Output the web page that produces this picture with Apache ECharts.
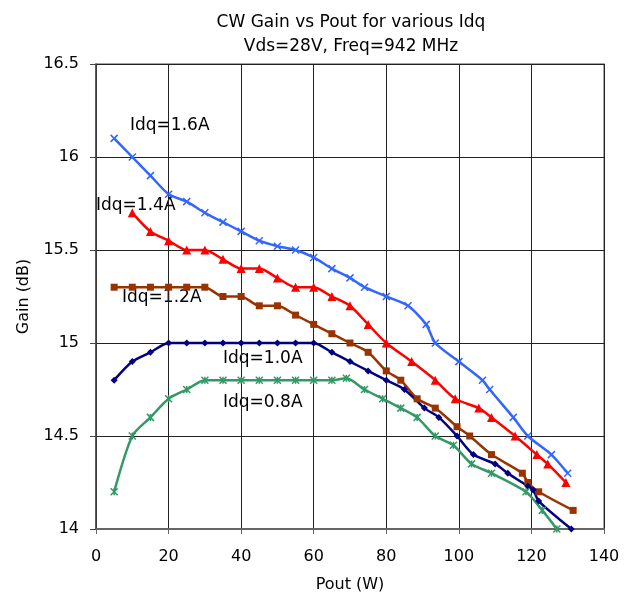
<!DOCTYPE html>
<html>
<head>
<meta charset="utf-8">
<script src="https://cdn.jsdelivr.net/npm/echarts@6/dist/echarts.min.js"></script>
<style>
  html, body { margin: 0; padding: 0; background: #fff; }
  #main { width: 624px; height: 604px; }
</style>
</head>
<body>
<div id="main"></div>
<script>
// Idq = 1.6 A
const pout16 = [5, 10, 15, 20, 25, 30, 35, 40, 45, 50, 55, 60, 65, 70, 74, 80, 86, 91, 93.5, 100, 106.5, 108.5, 115, 119, 125.5, 130];
const gain16 = [16.1, 16.0, 15.9, 15.8, 15.76, 15.7, 15.65, 15.6, 15.55, 15.52, 15.5, 15.46, 15.4, 15.35, 15.3, 15.25, 15.2, 15.1, 15.0, 14.9, 14.8, 14.75, 14.6, 14.5, 14.4, 14.3];
// Idq = 1.4 A
const pout14 = [10, 15, 20, 25, 30, 35, 40, 45, 50, 55, 60, 65, 70, 75, 80, 87, 93.5, 99, 105.5, 109, 115.5, 121.5, 124.5, 129.5];
const gain14 = [15.7, 15.6, 15.55, 15.5, 15.5, 15.45, 15.4, 15.4, 15.35, 15.3, 15.3, 15.25, 15.2, 15.1, 15.0, 14.9, 14.8, 14.7, 14.65, 14.6, 14.5, 14.4, 14.35, 14.25];
// Idq = 1.2 A
const pout12 = [5, 10, 15, 20, 25, 30, 35, 40, 45, 50, 55, 60, 65, 70, 75, 80, 84, 88.5, 93.5, 99.5, 103, 109, 117.5, 119, 122, 131.5];
const gain12 = [15.3, 15.3, 15.3, 15.3, 15.3, 15.3, 15.25, 15.25, 15.2, 15.2, 15.15, 15.1, 15.05, 15.0, 14.95, 14.85, 14.8, 14.7, 14.65, 14.55, 14.5, 14.4, 14.3, 14.25, 14.2, 14.1];
// Idq = 1.0 A
const pout10 = [5, 10, 15, 20, 25, 30, 35, 40, 45, 50, 55, 60, 65, 70, 75, 80, 85, 90.5, 94.5, 99.5, 104, 110, 113.5, 119, 120.5, 122, 131];
const gain10 = [14.8, 14.9, 14.95, 15.0, 15.0, 15.0, 15.0, 15.0, 15.0, 15.0, 15.0, 15.0, 14.95, 14.9, 14.85, 14.8, 14.75, 14.65, 14.6, 14.5, 14.4, 14.35, 14.3, 14.23, 14.21, 14.15, 14.0];
// Idq = 0.8 A
const pout08 = [5, 10, 15, 20, 25, 30, 35, 40, 45, 50, 55, 60, 65, 69, 74, 79, 84, 88.5, 93.5, 98.5, 103.5, 109, 118.5, 123, 127];
const gain08 = [14.2, 14.5, 14.6, 14.7, 14.75, 14.8, 14.8, 14.8, 14.8, 14.8, 14.8, 14.8, 14.8, 14.81, 14.75, 14.7, 14.65, 14.6, 14.5, 14.45, 14.35, 14.3, 14.2, 14.1, 14.0];

const seriesNames = ['Idq=1.6A', 'Idq=1.4A', 'Idq=1.2A', 'Idq=1.0A', 'Idq=0.8A'];
const seriesColors = ['#3366FF', '#FF0000', '#993300', '#000080', '#339966'];

const zip = (xs, ys) => xs.map((x, i) => [x, ys[i]]);

const crossPath = 'path://M0,0L10,10M10,0L0,10';
const starPath = 'path://M0,0L10,10M10,0L0,10M5,0L5,10';

const font = 'DejaVu Sans, Liberation Sans, sans-serif';

function lineSeries(name, data, color, symbol, size, stroke) {
  return {
    name: name,
    type: 'line',
    data: data,
    smooth: 0.25,
    symbol: symbol,
    symbolSize: size,
    lineStyle: { color: color, width: 2.5 },
    itemStyle: stroke
      ? { color: 'rgba(0,0,0,0)', borderColor: color, borderWidth: 1.5 }
      : { color: color, borderWidth: 0 },
    emphasis: { disabled: true },
    z: 3,
  };
}

const chart = echarts.init(document.getElementById('main'));

const option = {
  animation: false,
  title: {
    text: 'CW Gain vs Pout for various Idq\nVds=28V, Freq=942 MHz',
    left: 346,
    top: 6,
    textAlign: 'center',
    textStyle: {
      fontFamily: font,
      fontSize: 17,
      fontWeight: 'normal',
      color: '#000',
      lineHeight: 24,
    },
  },
  grid: {
    left: 96,
    top: 64,
    right: 20,
    bottom: 75,
    show: true,
    borderColor: '#888',
    borderWidth: 1.5,
  },
  xAxis: {
    type: 'value',
    min: 0,
    max: 140,
    interval: 20,
    name: 'Pout (W)',
    nameLocation: 'middle',
    nameGap: 48,
    nameTextStyle: { fontFamily: font, fontSize: 16, color: '#000' },
    axisLine: { show: true, onZero: false, lineStyle: { color: '#666', width: 2 } },
    axisTick: { show: true, inside: false, length: 5, lineStyle: { color: '#666' } },
    axisLabel: { fontFamily: font, fontSize: 16, color: '#000', margin: 20 },
    splitLine: { show: true, lineStyle: { color: '#222', width: 1 } },
  },
  yAxis: {
    type: 'value',
    min: 14,
    max: 16.5,
    interval: 0.5,
    name: 'Gain (dB)',
    nameLocation: 'middle',
    nameGap: 64,
    nameTextStyle: { fontFamily: font, fontSize: 16, color: '#000' },
    axisLine: { show: true, onZero: false, lineStyle: { color: '#444', width: 1.5 } },
    axisTick: { show: true, inside: false, length: 6, lineStyle: { color: '#444' } },
    axisLabel: { fontFamily: font, fontSize: 16, color: '#000', margin: 17 },
    splitLine: { show: true, lineStyle: { color: '#222', width: 1 } },
  },
  series: [
    lineSeries(seriesNames[0], zip(pout16, gain16), seriesColors[0], crossPath, 7, true),
    lineSeries(seriesNames[1], zip(pout14, gain14), seriesColors[1], 'triangle', 9, false),
    lineSeries(seriesNames[2], zip(pout12, gain12), seriesColors[2], 'rect', 7, false),
    lineSeries(seriesNames[3], zip(pout10, gain10), seriesColors[3], 'diamond', 7, false),
    lineSeries(seriesNames[4], zip(pout08, gain08), seriesColors[4], starPath, 7, true),
  ],
  graphic: [
    { type: 'text', left: 130, top: 117, style: { text: seriesNames[0], font: '17px ' + font, fill: '#000' } },
    { type: 'text', left: 96, top: 197, style: { text: seriesNames[1], font: '17px ' + font, fill: '#000' } },
    { type: 'text', left: 122, top: 289, style: { text: seriesNames[2], font: '17px ' + font, fill: '#000' } },
    { type: 'text', left: 223, top: 350, style: { text: seriesNames[3], font: '17px ' + font, fill: '#000' } },
    { type: 'text', left: 223, top: 394, style: { text: seriesNames[4], font: '17px ' + font, fill: '#000' } },
  ],
};

chart.setOption(option);
</script>
</body>
</html>
